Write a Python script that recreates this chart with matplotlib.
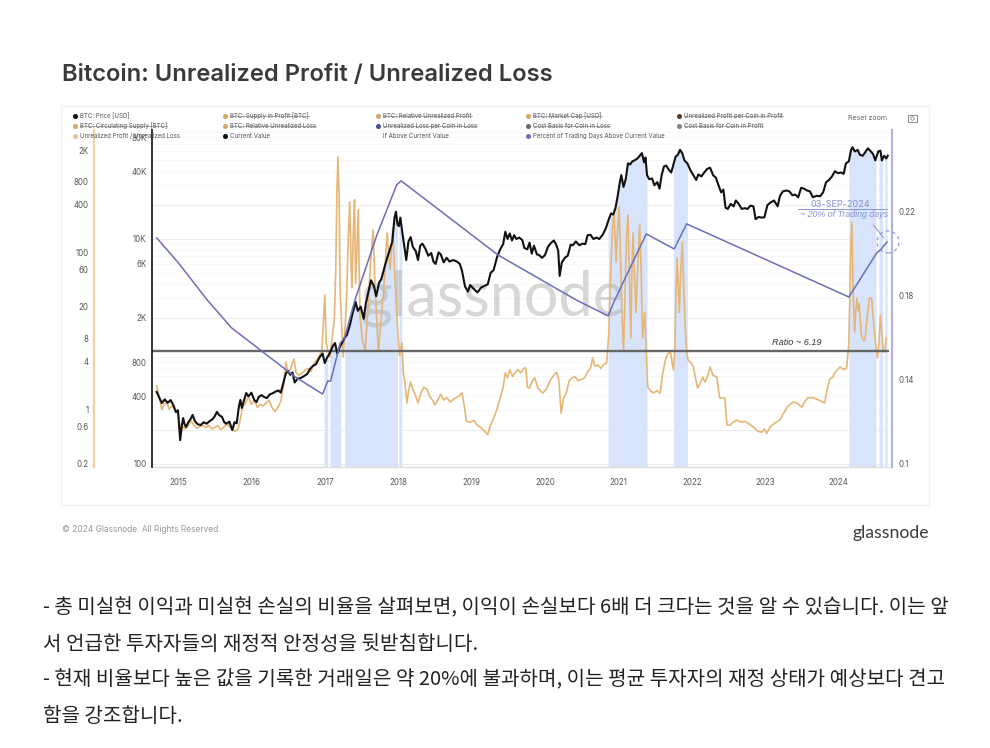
import numpy as np
import matplotlib
matplotlib.use("Agg")
import matplotlib.pyplot as plt
from matplotlib.patches import Rectangle, Circle
from matplotlib.lines import Line2D
from matplotlib.transforms import IdentityTransform

W, H = 990, 748
UI = ['Inter', 'DejaVu Sans']
KR = ['Noto Sans CJK KR', 'DejaVu Sans']

title = "Bitcoin: Unrealized Profit / Unrealized Loss"
footer = "© 2024 Glassnode. All Rights Reserved."
body_lines = [
    "- 총 미실현 이익과 미실현 손실의 비율을 살펴보면, 이익이 손실보다 6배 더 크다는 것을 알 수 있습니다. 이는 앞",
    "서 언급한 투자자들의 재정적 안정성을 뒷받침합니다.",
    "- 현재 비율보다 높은 값을 기록한 거래일은 약 20%에 불과하며, 이는 평균 투자자의 재정 상태가 예상보다 견고",
    "함을 강조합니다.",
]

x_years = [2015, 2016, 2017, 2018, 2019, 2020, 2021, 2022, 2023, 2024]
price_ticks = [100, 400, 800, 2000, 6000, 10000, 40000, 80000]
price_tick_labels = ["100", "400", "800", "2K", "6K", "10K", "40K", "80K"]
ratio_ticks = [0.2, 0.6, 1, 4, 8, 20, 60, 100, 400, 800, 2000]
ratio_tick_labels = ["0.2", "0.6", "1", "4", "8", "20", "60", "100", "400", "800", "2K"]
pct_ticks = [0.1, 0.14, 0.18, 0.22]
pct_tick_labels = ["0.1", "0.14", "0.18", "0.22"]

price_years = [
    2014.71, 2014.74, 2014.78, 2014.82, 2014.86, 2014.90, 2014.94, 2014.97, 2015.00, 2015.03,
    2015.05, 2015.07, 2015.09, 2015.11, 2015.14, 2015.17, 2015.20, 2015.23, 2015.27, 2015.31,
    2015.35, 2015.39, 2015.43, 2015.47, 2015.50, 2015.53, 2015.56, 2015.60, 2015.63, 2015.66,
    2015.70, 2015.74, 2015.77, 2015.80, 2015.83, 2015.85, 2015.87, 2015.90, 2015.93, 2015.96,
    2016.00, 2016.04, 2016.07, 2016.10, 2016.14, 2016.17, 2016.21, 2016.25, 2016.29, 2016.33,
    2016.37, 2016.40, 2016.44, 2016.47, 2016.50, 2016.53, 2016.56, 2016.59, 2016.63, 2016.67,
    2016.71, 2016.76, 2016.80, 2016.84, 2016.88, 2016.93, 2016.97, 2017.00, 2017.03, 2017.07,
    2017.11, 2017.14, 2017.17, 2017.20, 2017.24, 2017.27, 2017.30, 2017.34, 2017.38, 2017.42,
    2017.45, 2017.49, 2017.53, 2017.56, 2017.59, 2017.63, 2017.67, 2017.70, 2017.74, 2017.77,
    2017.81, 2017.85, 2017.88, 2017.92, 2017.95, 2017.97, 2017.99, 2018.01, 2018.03, 2018.06,
    2018.09, 2018.11, 2018.14, 2018.17, 2018.20, 2018.24, 2018.27, 2018.30, 2018.33, 2018.37,
    2018.41, 2018.45, 2018.48, 2018.51, 2018.55, 2018.58, 2018.62, 2018.66, 2018.70, 2018.75,
    2018.80, 2018.84, 2018.87, 2018.91, 2018.95, 2018.98, 2019.03, 2019.08, 2019.13, 2019.18,
    2019.22, 2019.26, 2019.30, 2019.35, 2019.39, 2019.43, 2019.46, 2019.49, 2019.52, 2019.55,
    2019.58, 2019.61, 2019.65, 2019.69, 2019.72, 2019.76, 2019.79, 2019.82, 2019.85, 2019.89,
    2019.92, 2019.96, 2020.00, 2020.04, 2020.08, 2020.12, 2020.15, 2020.18, 2020.20, 2020.23,
    2020.27, 2020.31, 2020.35, 2020.38, 2020.42, 2020.47, 2020.51, 2020.55, 2020.58, 2020.62,
    2020.66, 2020.70, 2020.74, 2020.79, 2020.83, 2020.87, 2020.90, 2020.93, 2020.96, 2020.99,
    2021.02, 2021.04, 2021.07, 2021.10, 2021.13, 2021.16, 2021.19, 2021.22, 2021.26, 2021.29,
    2021.32, 2021.35, 2021.37, 2021.39, 2021.42, 2021.46, 2021.49, 2021.53, 2021.56, 2021.59,
    2021.62, 2021.65, 2021.69, 2021.72, 2021.75, 2021.78, 2021.81, 2021.84, 2021.87, 2021.90,
    2021.94, 2021.98, 2022.02, 2022.06, 2022.09, 2022.13, 2022.17, 2022.21, 2022.25, 2022.29,
    2022.33, 2022.36, 2022.40, 2022.43, 2022.46, 2022.49, 2022.53, 2022.57, 2022.60, 2022.64,
    2022.68, 2022.72, 2022.76, 2022.80, 2022.84, 2022.87, 2022.91, 2022.95, 2022.99, 2023.03,
    2023.07, 2023.12, 2023.17, 2023.20, 2023.24, 2023.29, 2023.33, 2023.37, 2023.41, 2023.45,
    2023.49, 2023.53, 2023.57, 2023.61, 2023.65, 2023.70, 2023.75, 2023.79, 2023.83, 2023.87,
    2023.91, 2023.95, 2023.99, 2024.03, 2024.07, 2024.10, 2024.14, 2024.17, 2024.19, 2024.22,
    2024.26, 2024.29, 2024.33, 2024.37, 2024.40, 2024.43, 2024.47, 2024.50, 2024.54, 2024.57,
    2024.59, 2024.62, 2024.65, 2024.67,
]
price_values = [
    437, 395, 348, 375, 350, 370, 330, 290, 300, 163,
    215, 256, 225, 213, 235, 250, 273, 240, 225, 222,
    235, 228, 240, 250, 265, 290, 272, 262, 235, 228,
    238, 200, 235, 230, 325, 371, 315, 370, 428, 400,
    430, 370, 355, 395, 410, 395, 385, 415, 425, 440,
    450, 430, 540, 640, 670, 620, 650, 530, 575, 580,
    600, 630, 700, 745, 770, 890, 960, 790, 880, 970,
    1120, 1190, 960, 1080, 1210, 1320, 1400, 1700, 2200, 2750,
    2300, 2500, 1950, 2700, 3300, 4300, 3800, 3100, 4100, 4400,
    5500, 6800, 7800, 9500, 15500, 17500, 13500, 13000, 15500, 11000,
    8000, 6500, 9500, 10400, 8500, 7800, 6500, 8700, 9100, 8200,
    7100, 7500, 6300, 6000, 7600, 7300, 6200, 6800, 6300, 6500,
    6300, 6000, 5200, 3800, 3400, 3900, 3600, 3350, 3700, 3850,
    3950, 5000, 5300, 7000, 8100, 9000, 11600, 10000, 11200, 9700,
    10800, 10000, 10300, 9800, 8300, 8100, 9300, 7400, 8700, 7300,
    7200, 6800, 7200, 8500, 9200, 9700, 9000, 7900, 4700, 6200,
    6800, 7100, 8900, 8800, 9500, 8800, 9100, 9000, 10800, 10900,
    10000, 10300, 10000, 11000, 12500, 15000, 16900, 16500, 18800, 24000,
    32000, 37000, 29000, 34000, 47000, 46000, 49000, 50000, 52000, 55000,
    58000, 48000, 53000, 37000, 34000, 34500, 30000, 32000, 28000, 37000,
    44000, 45000, 41000, 39000, 46000, 54000, 56000, 62000, 58000, 50000,
    47000, 41000, 37000, 33500, 37500, 36000, 39000, 42000, 43000, 37000,
    35000, 30500, 26000, 27500, 19000, 18500, 20500, 19500, 22000, 20500,
    18500, 18800, 18500, 19800, 19500, 15000, 15700, 15500, 15600, 20000,
    21000, 22000, 19500, 24000, 26500, 27000, 26500, 24500, 24800, 23500,
    28500, 28000, 27000, 26500, 23500, 24200, 24000, 26000, 32000, 33500,
    36000, 40000, 38500, 39000, 38000, 47000, 49000, 62000, 65500, 60000,
    62000, 56000, 55000, 60000, 64000, 61000, 57000, 50000, 60000, 61000,
    50000, 55000, 52000, 55000,
]

ratio_years = [
    2014.71, 2014.74, 2014.78, 2014.81, 2014.85, 2014.88, 2014.92, 2014.96, 2015.00, 2015.04,
    2015.07, 2015.10, 2015.14, 2015.18, 2015.22, 2015.26, 2015.30, 2015.34, 2015.38, 2015.42,
    2015.46, 2015.50, 2015.54, 2015.58, 2015.62, 2015.66, 2015.70, 2015.74, 2015.78, 2015.82,
    2015.85, 2015.88, 2015.92, 2015.96, 2016.00, 2016.04, 2016.08, 2016.12, 2016.16, 2016.20,
    2016.24, 2016.28, 2016.32, 2016.36, 2016.40, 2016.44, 2016.47, 2016.50, 2016.53, 2016.58,
    2016.61, 2016.65, 2016.69, 2016.73, 2016.77, 2016.81, 2016.85, 2016.89, 2016.93, 2016.96,
    2016.98, 2017.00, 2017.02, 2017.04, 2017.07, 2017.10, 2017.13, 2017.15, 2017.165, 2017.18,
    2017.195, 2017.21, 2017.23, 2017.25, 2017.28, 2017.30, 2017.32, 2017.34, 2017.36, 2017.37,
    2017.39, 2017.405, 2017.42, 2017.44, 2017.455, 2017.48, 2017.51, 2017.55, 2017.58, 2017.60,
    2017.63, 2017.66, 2017.68, 2017.70, 2017.73, 2017.76, 2017.80, 2017.83, 2017.85, 2017.87,
    2017.89, 2017.91, 2017.925, 2017.95, 2017.97, 2018.00, 2018.02, 2018.05, 2018.07, 2018.09,
    2018.12, 2018.14, 2018.17, 2018.20, 2018.23, 2018.27, 2018.31, 2018.35, 2018.39, 2018.43,
    2018.47, 2018.50, 2018.54, 2018.58, 2018.62, 2018.66, 2018.71, 2018.76, 2018.82, 2018.87,
    2018.90, 2018.93, 2018.98, 2019.03, 2019.08, 2019.13, 2019.18, 2019.22, 2019.25, 2019.29,
    2019.32, 2019.36, 2019.39, 2019.43, 2019.46, 2019.49, 2019.52, 2019.56, 2019.59, 2019.63,
    2019.67, 2019.71, 2019.74, 2019.76, 2019.79, 2019.83, 2019.86, 2019.90, 2019.94, 2019.97,
    2020.02, 2020.07, 2020.12, 2020.16, 2020.19, 2020.22, 2020.25, 2020.29, 2020.33, 2020.37,
    2020.41, 2020.45, 2020.50, 2020.54, 2020.58, 2020.62, 2020.65, 2020.68, 2020.72, 2020.76,
    2020.80, 2020.84, 2020.87, 2020.885, 2020.90, 2020.92, 2020.94, 2020.955, 2020.97, 2020.99,
    2021.01, 2021.03, 2021.05, 2021.07, 2021.09, 2021.11, 2021.13, 2021.15, 2021.17, 2021.185,
    2021.20, 2021.22, 2021.24, 2021.27, 2021.29, 2021.31, 2021.33, 2021.36, 2021.38, 2021.40,
    2021.44, 2021.48, 2021.52, 2021.57, 2021.60, 2021.64, 2021.67, 2021.71, 2021.73, 2021.75,
    2021.77, 2021.785, 2021.80, 2021.815, 2021.83, 2021.85, 2021.87, 2021.89, 2021.91, 2021.93,
    2021.95, 2021.98, 2022.02, 2022.05, 2022.08, 2022.11, 2022.15, 2022.18, 2022.22, 2022.25,
    2022.29, 2022.34, 2022.38, 2022.45, 2022.48, 2022.52, 2022.56, 2022.62, 2022.67, 2022.72,
    2022.79, 2022.85, 2022.90, 2022.96, 2022.99, 2023.02, 2023.07, 2023.13, 2023.20, 2023.24,
    2023.30, 2023.34, 2023.38, 2023.43, 2023.50, 2023.54, 2023.58, 2023.65, 2023.72, 2023.77,
    2023.81, 2023.84, 2023.88, 2023.92, 2023.96, 2024.02, 2024.07, 2024.11, 2024.14, 2024.15,
    2024.165, 2024.18, 2024.19, 2024.20, 2024.22, 2024.235, 2024.25, 2024.265, 2024.28, 2024.31,
    2024.34, 2024.36, 2024.39, 2024.42, 2024.45, 2024.47, 2024.50, 2024.53, 2024.55, 2024.57,
    2024.59, 2024.61, 2024.63, 2024.65,
]
ratio_values = [
    1.97, 1.5, 0.98, 1.15, 1.2, 1.0, 1.1, 0.98, 0.85, 0.5,
    0.6, 0.56, 0.62, 0.7, 0.62, 0.57, 0.6, 0.62, 0.58, 0.62,
    0.56, 0.58, 0.62, 0.55, 0.58, 0.66, 0.6, 0.55, 0.52, 0.56,
    0.75, 1.05, 1.2, 1.45, 1.15, 1.3, 1.05, 1.15, 1.1, 1.2,
    1.3, 1.05, 0.93, 1.05, 1.25, 2.0, 3.98, 2.9, 3.2, 4.35,
    2.9, 2.7, 2.9, 3.1, 3.3, 3.0, 3.8, 4.2, 4.9, 5.6,
    12, 28.4, 7, 5.6, 4.6, 8, 14, 60, 600, 1630,
    500, 30, 12, 4.6, 12, 33, 150, 436, 60, 35,
    200, 465, 40, 120, 346, 15, 8, 5.35, 15, 30,
    90, 192, 45, 20, 5.35, 12, 30, 90, 175, 90,
    60, 120, 200, 60, 25, 8, 4.8, 7, 3, 2.2,
    1.2, 1.7, 2.2, 1.8, 1.55, 1.2, 1.6, 1.9, 1.8, 1.45,
    1.3, 1.13, 1.3, 1.55, 1.3, 1.4, 1.23, 1.35, 1.45, 1.6,
    1.1, 0.7, 0.68, 0.72, 0.62, 0.58, 0.52, 0.47, 0.6, 0.727,
    0.85, 1.1, 1.39, 1.9, 2.9, 2.5, 3.16, 2.6, 2.9, 3.2,
    2.9, 3.3, 3.34, 1.9, 1.85, 2.3, 2.5, 1.9, 1.7, 1.6,
    1.8, 2.3, 2.7, 2.95, 2.3, 0.89, 1.35, 1.6, 2.3, 2.5,
    2.6, 2.3, 2.4, 2.5, 3.0, 3.3, 4.48, 3.5, 3.66, 3.3,
    3.7, 3.87, 9.3, 30, 70, 200, 325, 150, 75, 200,
    376, 80, 15, 5.35, 30, 150, 297, 50, 8, 60,
    175, 50, 17, 90, 222, 60, 8, 17, 5, 1.91,
    1.7, 1.6, 1.72, 1.6, 2.7, 4.2, 5.0, 5.35, 4.0, 3.16,
    6, 30, 84, 40, 17, 60, 135, 40, 11, 5.35,
    4.2, 3.98, 3.5, 2.5, 1.86, 2.1, 2.56, 2.2, 2.7, 3.44,
    2.7, 2.56, 1.39, 1.39, 0.63, 0.62, 0.68, 0.727, 0.68, 0.7,
    0.64, 0.58, 0.52, 0.51, 0.56, 0.49, 0.6, 0.66, 0.727, 0.85,
    1.06, 1.15, 1.23, 1.2, 1.06, 1.25, 1.39, 1.4, 1.32, 1.25,
    1.2, 1.7, 2.4, 2.56, 3.0, 3.44, 3.2, 3.34, 6.96, 20,
    100, 242, 100, 26, 9.6, 18, 26, 18, 22, 8.8,
    7.5, 7.6, 15, 26, 26, 15, 7.2, 4.48, 7, 15.8,
    9, 5.35, 5.5, 8.06,
]
ratio_level = 5.5

pct_years = [
    2014.71, 2015.00, 2015.40, 2015.73, 2016.12, 2016.60, 2016.97, 2017.04, 2017.08, 2017.21,
    2017.27, 2017.41, 2017.71, 2017.98, 2018.04, 2019.36, 2020.43, 2020.86, 2020.95, 2021.38,
    2021.76, 2021.93, 2024.14, 2024.52, 2024.57, 2024.66,
]
pct_values = [
    0.2076, 0.196, 0.178, 0.1648, 0.1543, 0.1414, 0.1333, 0.1395, 0.1395, 0.1576,
    0.160, 0.178, 0.209, 0.2329, 0.2348, 0.1995, 0.178, 0.1705, 0.178, 0.2095,
    0.2024, 0.2143, 0.1795, 0.2005, 0.2019, 0.2057,
]

above_starts = [2016.99, 2017.07, 2017.27, 2018.01, 2020.86, 2021.75, 2024.14, 2024.55, 2024.63]
above_ends = [2017.04, 2017.22, 2017.99, 2018.05, 2021.39, 2021.94, 2024.51, 2024.60, 2024.66]

legend_labels = [
    ["BTC: Price [USD]", "BTC: Supply in Profit [BTC]", "BTC: Relative Unrealized Profit",
     "BTC: Market Cap [USD]", "Unrealized Profit per Coin in Profit"],
    ["BTC: Circulating Supply [BTC]", "BTC: Relative Unrealized Loss", "Unrealized Loss per Coin in Loss",
     "Cost Basis for Coin in Loss", "Cost Basis for Coin in Profit"],
    ["Unrealized Profit / Unrealized Loss", "Current Value", "If Above Current Value",
     "Percent of Trading Days Above Current Value"],
]
legend_colors = [
    ["#111111", "#d9a765", "#d9a765", "#d9a765", "#5b3d1e"],
    ["#d9a765", "#d9a765", "#4a5488", "#666666", "#8a8378"],
    ["#efc48c", "#111111", None, "#6a72bd"],
]
legend_struck = [
    [False, True, True, True, True],
    [True, True, True, True, True],
    [False, False, False, False],
]

ORANGE = "#e6b677"
PURPLE = "#6a6fb8"
BAND = "#d7e4fb"
ANNO = "#8593d6"

fig = plt.figure(figsize=(W / 100, H / 100), dpi=100, facecolor="white")


def fx(x):
    return x / W


def fy(y):
    return 1 - y / H


def axes_rect(l, t, r, b):
    return [fx(l), fy(b), (r - l) / W, (b - t) / H]


fig.add_artist(Rectangle((fx(61), fy(505)), 868 / W, 399 / H, transform=fig.transFigure,
                         facecolor="white", edgecolor="#f2f2f2", lw=1, zorder=-5))

rect = axes_rect(152, 130, 889, 467)
x0, x1 = 2014.646, 2024.687
price_lim = (94.0, 93100)
ratio_lim = (0.183, 3597)
pct_lim = (0.09857, 0.259)

ax_band = fig.add_axes(rect, zorder=1)
ax_ratio = fig.add_axes(rect, zorder=2)
ax_price = fig.add_axes(rect, zorder=3)
ax_pct = fig.add_axes(rect, zorder=4)
for a in (ax_band, ax_ratio, ax_price, ax_pct):
    a.set_xlim(x0, x1)
    a.patch.set_alpha(0)
    for s in a.spines.values():
        s.set_visible(False)
    a.tick_params(length=0, which="both")

# base layer: grid, watermark, fill under the price while above the current ratio
ax_band.set_yscale("log")
ax_band.set_ylim(*price_lim)
for d in [100, 1000, 10000]:
    for m in range(1, 10):
        v = d * m
        if price_lim[0] < v < price_lim[1]:
            ax_band.axhline(v, color="#ededed" if m <= 2 else "#f7f7f7", lw=0.7, zorder=0)
ax_band.spines["bottom"].set_visible(True)
ax_band.spines["bottom"].set_color("#dddddd")
ax_band.spines["bottom"].set_linewidth(1)
ax_band.set_yticks([])
ax_band.minorticks_off()
ax_band.set_xticks(x_years)
ax_band.set_xticklabels([str(y) for y in x_years], fontsize=5.7, color="#555555", family=UI)
ax_band.tick_params(axis="x", pad=8, length=0)
for s, e in zip(above_starts, above_ends):
    xs = np.linspace(s, e, 60)
    ax_band.fill_between(xs, price_lim[0], np.interp(xs, price_years, price_values),
                         color=BAND, lw=0, zorder=1)
ax_band.text(2019.28, 3000, "glassnode", fontsize=44, color="#b0b0b0", alpha=0.5,
             family=['Lato', 'DejaVu Sans'], ha="center", va="center", zorder=2)

# ratio on the far-left log axis
ax_ratio.set_yscale("log")
ax_ratio.set_ylim(*ratio_lim)
ax_ratio.plot(ratio_years, ratio_values, color=ORANGE, lw=1.2, zorder=2, solid_joinstyle="round")
ax_ratio.axhline(ratio_level, color="#666666", lw=1.7, zorder=3)
ax_ratio.spines["left"].set_visible(True)
ax_ratio.spines["left"].set_position(("outward", 58 * 0.72))
ax_ratio.spines["left"].set_color("#f0cfa2")
ax_ratio.spines["left"].set_linewidth(1.6)
ax_ratio.set_yticks(ratio_ticks)
ax_ratio.set_yticklabels(ratio_tick_labels, fontsize=5.7, color="#555555", family=UI)
ax_ratio.minorticks_off()
ax_ratio.tick_params(axis="y", pad=4, length=0)
ax_ratio.set_xticks([])
ax_ratio.text(2023.09, ratio_level * 1.27, "Ratio ~ 6.19", fontsize=6.6, style="italic",
              color="#333333", family=['Liberation Sans'], ha="left", va="center")

# price on the main log axis
ax_price.set_yscale("log")
ax_price.set_ylim(*price_lim)
ax_price.plot(price_years, price_values, color="#111111", lw=1.5, solid_joinstyle="round")
ax_price.spines["left"].set_visible(True)
ax_price.spines["left"].set_color("#222222")
ax_price.spines["left"].set_linewidth(1.3)
ax_price.set_yticks(price_ticks)
ax_price.set_yticklabels(price_tick_labels, fontsize=5.7, color="#555555", family=UI)
ax_price.minorticks_off()
ax_price.tick_params(axis="y", pad=4, length=0)
ax_price.set_xticks([])

# percent on the right linear axis
ax_pct.set_ylim(*pct_lim)
ax_pct.plot(pct_years, pct_values, color=PURPLE, lw=1.1)
ax_pct.spines["right"].set_visible(True)
ax_pct.spines["right"].set_position(("outward", 3 * 0.72))
ax_pct.spines["right"].set_color("#b4b2e2")
ax_pct.spines["right"].set_linewidth(1.6)
ax_pct.yaxis.tick_right()
ax_pct.set_yticks(pct_ticks)
ax_pct.set_yticklabels(pct_tick_labels, fontsize=5.7, color="#555555", family=UI)
ax_pct.tick_params(axis="y", pad=5, length=0)
ax_pct.set_xticks([])
ax_pct.text(2024.03, 0.2233, "03-SEP-2024", fontsize=6.6, color=ANNO, family=UI, ha="center", va="center")
ax_pct.plot([2023.45, 2024.66], [0.2214, 0.2214], color=ANNO, lw=0.7)
ax_pct.text(2024.67, 0.2186, "~ 20% of Trading days", fontsize=6.4, style="italic", color=ANNO,
            family=['Liberation Sans'], ha="right", va="center")
ax_pct.annotate("", xy=(2024.64, 0.2066), xytext=(2024.45, 0.2148),
                arrowprops=dict(arrowstyle="-", color=ANNO, lw=0.7))
fig.add_artist(Circle((888, H - 242), 11, transform=IdentityTransform(), fill=False, ec=ANNO, lw=0.8,
                      ls=(0, (3, 3)), zorder=9))

# titles and legend
fig.text(fx(62), fy(81), title, fontsize=17.1, fontweight=600, color="#3a3a3a", family=UI, ha="left", va="baseline")

col_dot = [75, 225, 378, 528, 679]
row_y = [116, 126, 136]
renderer = fig.canvas.get_renderer()
for r, row in enumerate(legend_labels):
    for c, label in enumerate(row):
        color = legend_colors[r][c]
        if color:
            fig.add_artist(Line2D([fx(col_dot[c])], [fy(row_y[r])], marker="o", ms=2.6, color=color,
                                  ls="none", transform=fig.transFigure, zorder=6))
        t = fig.text(fx(col_dot[c] + 5), fy(row_y[r]), label, fontsize=4.4, color="#555555", family=UI,
                     ha="left", va="center", zorder=6)
        if legend_struck[r][c]:
            bb = t.get_window_extent(renderer)
            fig.add_artist(Line2D([bb.x0 / W, bb.x1 / W], [fy(row_y[r])] * 2, color="#777777", lw=0.45,
                                  transform=fig.transFigure, zorder=7))

fig.text(fx(868), fy(118), "Reset zoom", fontsize=5, color="#666666", family=UI, ha="center", va="center")
fig.add_artist(Rectangle((fx(908), fy(122)), 9 / W, 7 / H, transform=fig.transFigure, fill=False,
                         ec="#777777", lw=0.6))
fig.add_artist(Circle((912.5, H - 118.5), 1.7, transform=IdentityTransform(), fill=False, ec="#777777", lw=0.5))

fig.text(fx(62), fy(530), footer, fontsize=6.05, color="#999999", family=UI, ha="left", va="center")
fig.text(fx(929), fy(533), "glassnode", fontsize=12.7, color="#3a3a3a", family=['Lato', 'DejaVu Sans'],
         ha="right", va="center")

for y, line in zip([608, 644, 680, 716], body_lines):
    fig.text(fx(43), fy(y), line, fontsize=14.45, color="#222222", family=KR, ha="left", va="center")

fig.savefig("out.png", dpi=100, facecolor="white")
